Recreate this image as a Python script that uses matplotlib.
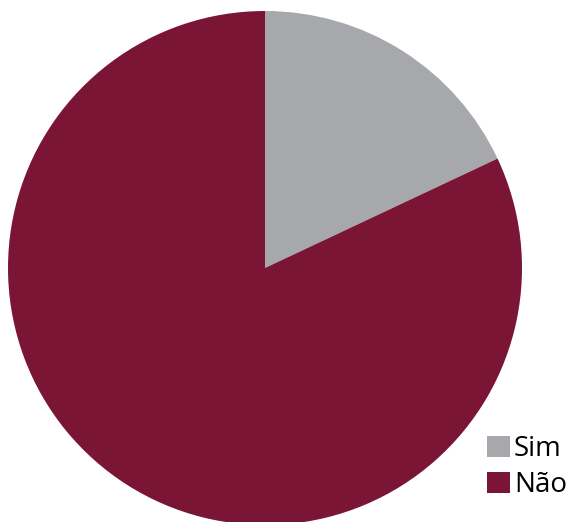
import matplotlib.pyplot as plt

# data
labels = ["Sim", "Não"]
values = [18, 82]
colors = ["#a7a8ab", "#7b1535"]

fig = plt.figure(figsize=(5.71, 5.22), dpi=100)
ax = fig.add_axes([0, 0, 1, 1])

wedges, _ = ax.pie(values, colors=colors, startangle=90, counterclock=False,
                   radius=257, center=(0, 0), frame=True)
ax.set_xlim(-265, 306)
ax.set_ylim(-254, 268)
ax.set_aspect("equal")
ax.axis("off")

fig.legend(wedges, labels, loc="lower left", bbox_to_anchor=(487 / 571, 23 / 522),
           frameon=False, prop={"family": "Open Sans", "size": 20},
           handlelength=0.82, handleheight=0.82, handletextpad=0.15,
           labelspacing=0.28, borderpad=0, borderaxespad=0)

fig.savefig("out.png", dpi=100)
